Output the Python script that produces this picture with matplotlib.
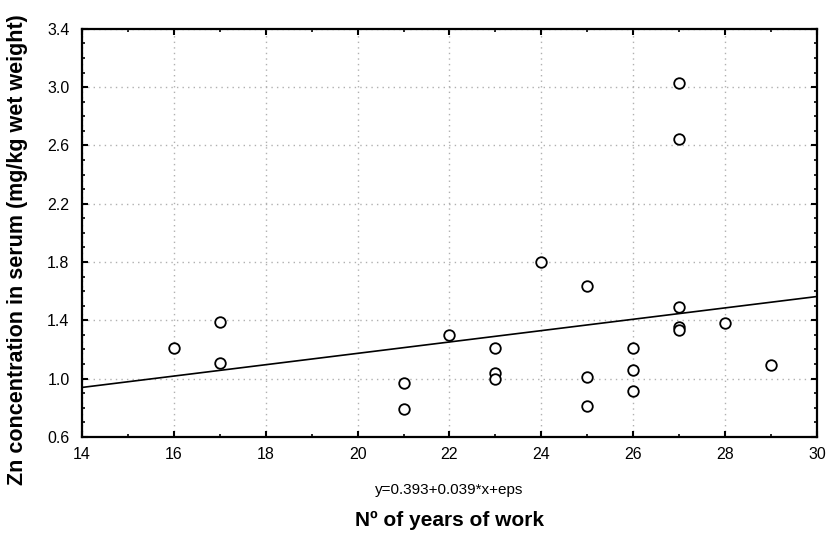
import numpy as np
import matplotlib
matplotlib.use("Agg")
import matplotlib.pyplot as plt
from matplotlib.ticker import MultipleLocator

plt.rcParams['font.family'] = ['Liberation Sans', 'DejaVu Sans']

# years of work vs Zn concentration
years = [16, 17, 17, 21, 21, 22, 23, 23, 23, 24, 25, 25, 25,
         26, 26, 26, 27, 27, 27, 27, 27, 28, 29]
zn = [1.21, 1.39, 1.11, 0.97, 0.79, 1.30, 1.21, 1.035, 1.00, 1.80, 1.635, 1.01, 0.815,
      1.21, 1.06, 0.915, 3.03, 2.645, 1.49, 1.355, 1.33, 1.38, 1.09]

# fitted line y = a + b*x
fit_a = 0.393
fit_b = 0.039
fit_x = [14, 30]

x_ticks = [14, 16, 18, 20, 22, 24, 26, 28, 30]
y_ticks = [0.6, 1.0, 1.4, 1.8, 2.2, 2.6, 3.0, 3.4]

fig = plt.figure(figsize=(8.3, 5.35), dpi=100)
ax = fig.add_axes([0.0988, 0.1835, 0.8855, 0.7625])

ax.grid(True, color='#b0b0b0', linestyle=(0, (1, 3)), linewidth=1)
ax.set_axisbelow(True)

fx = np.array(fit_x, dtype=float)
ax.plot(fx, fit_a + fit_b * fx, color='black', linewidth=1.2)
ax.scatter(years, zn, s=58, facecolors='white', edgecolors='black', linewidths=1.3, zorder=3)

ax.set_xlim(14, 30)
ax.set_ylim(0.6, 3.4)
ax.set_xticks(x_ticks)
ax.set_yticks(y_ticks)
ax.set_yticklabels([f"{v:.1f}" for v in y_ticks])
ax.xaxis.set_minor_locator(MultipleLocator(1))
ax.yaxis.set_minor_locator(MultipleLocator(0.1))
ax.tick_params(which='both', direction='in', top=True, right=True, labelsize=11.5, color='black')
ax.tick_params(which='major', length=4, width=1.5)
ax.tick_params(which='minor', length=2.5, width=1.2)
ax.tick_params(axis='x', pad=7)
ax.tick_params(axis='y', pad=9)
for sp in ax.spines.values():
    sp.set_linewidth(1.6)

# y label sits a bit below the axes centre in the original
fig.text(18 / 830, 1 - 250 / 535, "Zn concentration in serum (mg/kg wet weight)",
         rotation=90, ha='center', va='center', fontsize=15.5, fontweight='bold')
fig.text(0.5415, 1 - 490 / 535, "y=0.393+0.039*x+eps", ha='center', va='center', fontsize=11)
fig.text(0.5415, 1 - 520 / 535, "Nº of years of work", ha='center', va='center', fontsize=15, fontweight='bold')

fig.savefig("out.png", dpi=100)
